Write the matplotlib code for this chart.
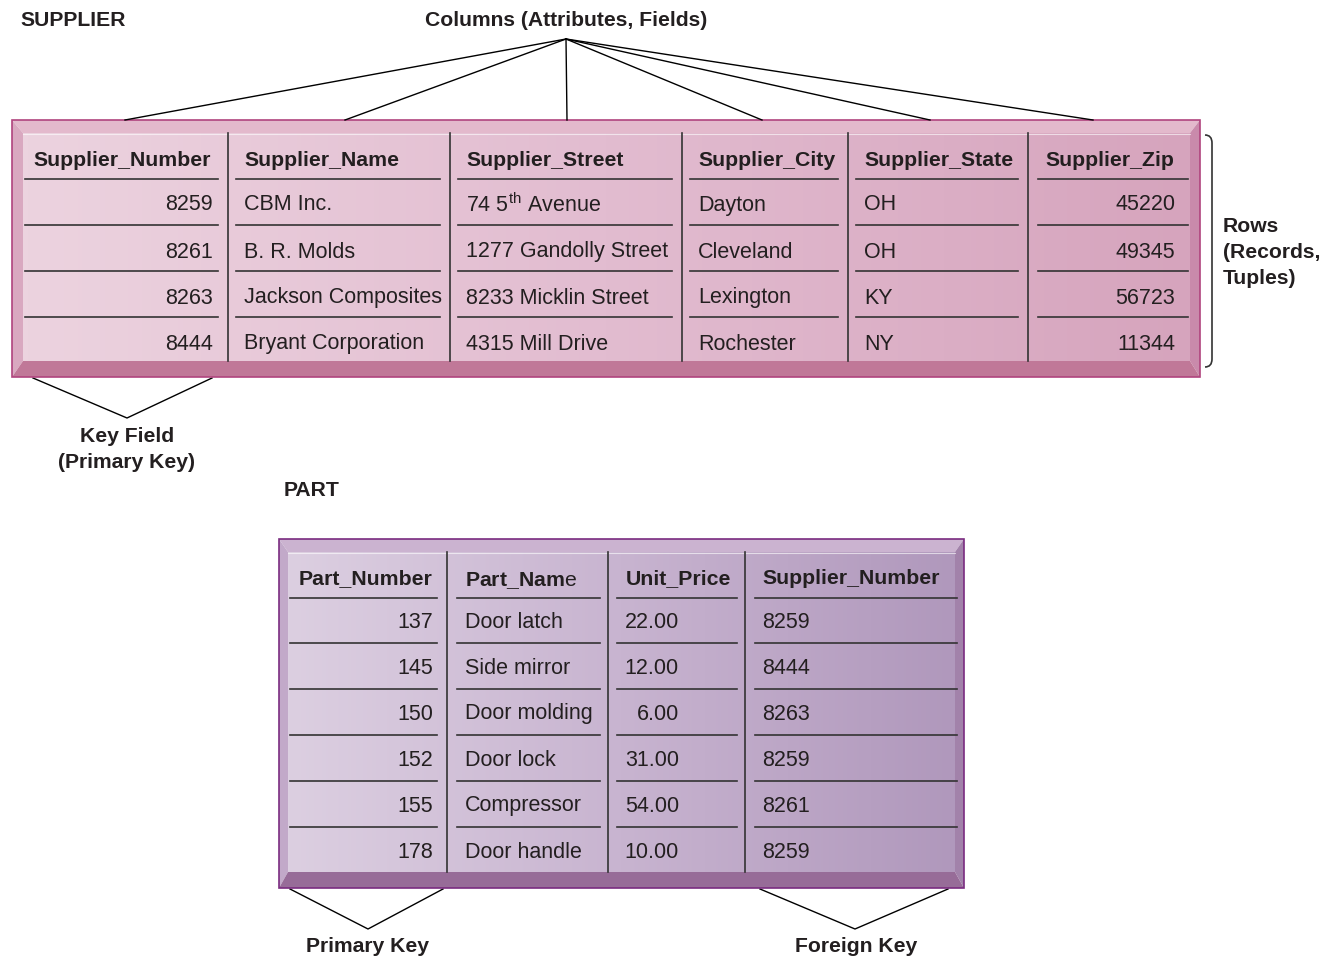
import numpy as np
import matplotlib
matplotlib.use("Agg")
from matplotlib import pyplot as plt
from matplotlib.patches import Polygon, Rectangle
from matplotlib.path import Path
from matplotlib.patches import PathPatch
from matplotlib.colors import LinearSegmentedColormap

plt.rcParams['font.family'] = ['Liberation Sans', 'DejaVu Sans']
plt.rcParams['mathtext.fontset'] = 'custom'
plt.rcParams['mathtext.rm'] = 'Liberation Sans'
plt.rcParams['mathtext.bf'] = 'Liberation Sans:bold'

# ---- data ----
supplier_cols = ['Supplier_Number', 'Supplier_Name', 'Supplier_Street',
                 'Supplier_City', 'Supplier_State', 'Supplier_Zip']
supplier_number = ['8259', '8261', '8263', '8444']
supplier_name = ['CBM Inc.', 'B. R. Molds', 'Jackson Composites', 'Bryant Corporation']
supplier_street = ['74 5$^{\\mathrm{th}}$ Avenue', '1277 Gandolly Street',
                   '8233 Micklin Street', '4315 Mill Drive']
supplier_city = ['Dayton', 'Cleveland', 'Lexington', 'Rochester']
supplier_state = ['OH', 'OH', 'KY', 'NY']
supplier_zip = ['45220', '49345', '56723', '11344']

# the last "e" of Part_Name is set in regular weight in the original
part_cols = ['Part_Number', '$\\mathbf{Part\\_Nam}$e', 'Unit_Price', 'Supplier_Number']
part_number = ['137', '145', '150', '152', '155', '178']
part_name = ['Door latch', 'Side mirror', 'Door molding', 'Door lock',
             'Compressor', 'Door handle']
unit_price = ['22.00', '12.00', '6.00', '31.00', '54.00', '10.00']
part_supplier = ['8259', '8444', '8263', '8259', '8261', '8259']

TXT = '#231f20'
HFS = 15.3   # header size
DFS = 15.5   # cell size
LFS = 15.2   # callout labels
BASE = 7.5   # half cap height in px, to sit text on a baseline
MATH_FIX = 2.0  # mathtext sits a bit high on the baseline

fig = plt.figure(figsize=(13.36, 9.59), dpi=100)
ax = fig.add_axes([0, 0, 1, 1])
ax.set_xlim(0, 1336)
ax.set_ylim(959, 0)
ax.axis('off')


def beveled_box(outer, inner, face, top, left, right, bottom, border):
    x0, y0, x1, y1 = outer
    ix0, iy0, ix1, iy1 = inner
    ax.add_patch(Polygon([(x0, y0), (x1, y0), (ix1, iy0), (ix0, iy0)], closed=True, fc=top, ec='none'))
    ax.add_patch(Polygon([(x0, y0), (ix0, iy0), (ix0, iy1), (x0, y1)], closed=True, fc=left, ec='none'))
    ax.add_patch(Polygon([(x1, y0), (x1, y1), (ix1, iy1), (ix1, iy0)], closed=True, fc=right, ec='none'))
    ax.add_patch(Polygon([(x0, y1), (ix0, iy1), (ix1, iy1), (x1, y1)], closed=True, fc=bottom, ec='none'))
    cmap = LinearSegmentedColormap.from_list('face', face)
    grad = np.linspace(0, 1, 256).reshape(1, -1)
    ax.imshow(grad, cmap=cmap, extent=[ix0, ix1, iy1, iy0], aspect='auto', zorder=1)
    ax.plot([ix0, ix1], [iy0 + 0.5, iy0 + 0.5], color='white', lw=0.8, alpha=0.6, zorder=2)
    ax.add_patch(Rectangle((x0, y0), x1 - x0, y1 - y0, fc='none', ec=border, lw=1.2, zorder=3))


def fix(s):
    return MATH_FIX if '$' in s else 0.0


def table(cols, data, col_x, text_x, aligns, header_y, row_y, line_y, spans, vtop, vbot):
    for cx in col_x:
        ax.plot([cx, cx], [vtop, vbot], color='#333333', lw=1.2, zorder=4)
    for i, name in enumerate(cols):
        weight = 'normal' if name.startswith('$') else 'bold'
        ax.text(text_x[i][0], header_y + BASE + fix(name), name, fontsize=HFS, fontweight=weight,
                color=TXT, ha='left', va='baseline', zorder=5)
        for ly in line_y:
            ax.plot(spans[i], [ly, ly], color='#333333', lw=1.2, zorder=4)
        for j, val in enumerate(data[i]):
            ax.text(text_x[i][1], row_y[j] + BASE + fix(val), val, fontsize=DFS, color=TXT,
                    ha=aligns[i], va='baseline', zorder=5)


# ---- SUPPLIER table ----
beveled_box((12, 120, 1200, 377), (23, 133, 1190, 361),
            ['#ecd3df', '#e2bcd0', '#d6a4bd'],
            '#e3b9cc', '#d9a8c0', '#c98aab', '#c07898', '#b0447e')
table(supplier_cols,
      [supplier_number, supplier_name, supplier_street, supplier_city, supplier_state, supplier_zip],
      [228, 450, 682, 848, 1028],
      [(33, 213), (244, 244), (466, 466), (698, 698), (864, 864), (1045, 1175)],
      ['right', 'left', 'left', 'left', 'left', 'right'],
      158, [203, 250, 296, 342], [179, 225, 271, 317],
      [(25, 218), (236, 440), (458, 672), (690, 838), (856, 1018), (1038, 1188)],
      133, 361)

# ---- PART table ----
beveled_box((279, 539, 964, 888), (288, 552, 955, 872),
            ['#dccfe1', '#c8b4d0', '#b098bc'],
            '#cbb3d0', '#c2a9c9', '#a282aa', '#976c98', '#7a2c80')
table(part_cols,
      [part_number, part_name, unit_price, part_supplier],
      [447, 608, 745],
      [(299, 433), (465, 465), (626, 679), (762, 762)],
      ['right', 'left', 'right', 'left'],
      577, [620, 666, 712, 758, 804, 850], [598, 643, 689, 735, 781, 827],
      [(290, 437), (457, 600), (617, 737), (755, 957)],
      552, 872)

# ---- labels and callouts ----
ax.text(20, 21, 'SUPPLIER', fontsize=LFS, fontweight='bold', color=TXT, ha='left', va='center')
ax.text(566, 21, 'Columns (Attributes, Fields)', fontsize=LFS, fontweight='bold', color=TXT,
        ha='center', va='center')
for ex in [125, 345, 567, 762, 930, 1093]:
    ax.plot([566, ex], [39, 120], color='black', lw=1.0, zorder=6)

bracket = Path([(1205, 135), (1212, 135), (1212, 143), (1212, 359), (1212, 367), (1205, 367)],
               [Path.MOVETO, Path.CURVE3, Path.CURVE3, Path.LINETO, Path.CURVE3, Path.CURVE3])
ax.add_patch(PathPatch(bracket, fc='none', ec='#333333', lw=1.2))
for k, s in enumerate(['Rows', '(Records,', 'Tuples)']):
    ax.text(1223, 227 + 25.5 * k, s, fontsize=LFS, fontweight='bold', color=TXT, ha='left', va='center')

ax.plot([33, 127, 212], [378, 418, 378], color='black', lw=1.0)
ax.text(127, 437, 'Key Field', fontsize=LFS, fontweight='bold', color=TXT, ha='center', va='center')
ax.text(127, 463, '(Primary Key)', fontsize=LFS, fontweight='bold', color=TXT, ha='center', va='center')

ax.text(284, 490, 'PART', fontsize=LFS, fontweight='bold', color=TXT, ha='left', va='center')

ax.plot([290, 368, 443], [889, 929, 889], color='black', lw=1.0)
ax.text(368, 947, 'Primary Key', fontsize=LFS, fontweight='bold', color=TXT, ha='center', va='center')
ax.plot([760, 855, 948], [889, 929, 889], color='black', lw=1.0)
ax.text(856, 947, 'Foreign Key', fontsize=LFS, fontweight='bold', color=TXT, ha='center', va='center')

plt.savefig('out.png', dpi=100)
